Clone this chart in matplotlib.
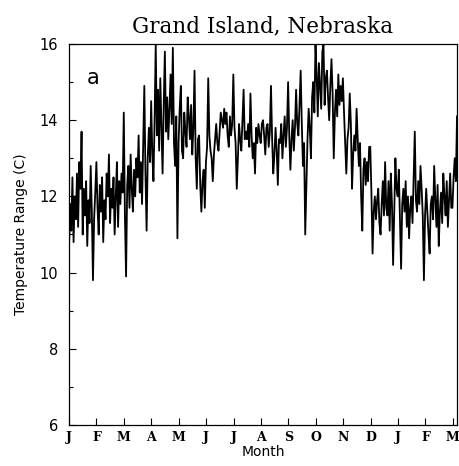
import numpy as np
import matplotlib
matplotlib.use('Agg')
import matplotlib.pyplot as plt

# daily temperature range, ~24 readings per month
jan = [10.6, 11.8, 11.1, 12.5, 10.8, 12.0, 11.4, 12.6, 11.2, 12.9, 12.2, 13.7,
       11.0, 12.2, 11.5, 12.4, 10.7, 11.9, 11.3, 12.8, 11.6, 9.8, 11.4, 12.1]
feb = [12.9, 11.7, 11.0, 12.3, 11.6, 12.5, 10.8, 11.9, 11.4, 12.6, 12.0, 13.1,
       11.3, 12.2, 11.7, 12.5, 11.0, 12.0, 12.9, 11.2, 12.4, 11.8, 12.6, 12.1]
mar = [14.2, 11.5, 9.9, 12.3, 12.8, 11.7, 13.1, 12.2, 11.6, 12.7, 12.0, 13.0,
       12.5, 13.6, 12.1, 12.9, 11.8, 13.4, 14.9, 12.6, 11.1, 13.0, 13.8, 12.9]
apr = [14.5, 13.1, 12.4, 14.0, 16.0, 13.6, 14.8, 13.2, 15.1, 13.9, 12.6, 14.4,
       15.8, 13.7, 14.6, 13.5, 14.3, 15.2, 13.9, 15.9, 13.4, 12.8, 14.1, 10.9]
may = [13.4, 14.3, 14.9, 13.2, 13.0, 14.2, 13.7, 13.3, 14.6, 14.1, 13.5, 14.4,
       13.1, 13.8, 15.3, 13.0, 12.2, 13.5, 13.6, 12.3, 11.6, 12.4, 12.7, 11.7]
jun = [12.9, 13.3, 15.1, 13.6, 13.2, 13.0, 12.4, 13.1, 13.5, 13.9, 13.4, 13.2,
       13.7, 14.2, 14.0, 13.8, 14.3, 13.9, 14.2, 13.6, 13.3, 14.1, 13.6, 13.9]
jul = [15.2, 13.8, 13.4, 12.2, 13.0, 13.9, 13.5, 13.2, 14.0, 14.8, 13.5, 13.7,
       13.5, 13.9, 13.3, 14.7, 13.6, 13.0, 13.4, 12.6, 13.8, 13.4, 13.9, 13.6]
aug = [13.4, 13.9, 14.0, 13.6, 13.1, 13.8, 13.9, 13.3, 13.7, 14.9, 13.5, 12.6,
       13.1, 13.8, 13.2, 12.3, 13.5, 13.4, 13.9, 13.0, 13.6, 14.1, 13.3, 13.8]
sep = [15.0, 13.6, 12.7, 13.5, 14.0, 13.2, 13.8, 14.8, 13.9, 13.6, 14.4, 15.3,
       13.9, 12.8, 13.4, 11.0, 12.2, 13.5, 14.3, 13.8, 13.0, 14.6, 15.0, 14.2]
oct_ = [16.0, 15.2, 14.1, 15.5, 14.9, 14.3, 15.8, 16.0, 14.4, 15.1, 15.3, 14.6,
        14.0, 14.9, 15.6, 14.7, 13.0, 14.2, 14.8, 14.1, 15.2, 14.4, 14.9, 14.5]
nov = [15.1, 14.2, 13.4, 12.6, 13.5, 13.8, 14.7, 13.9, 12.2, 13.1, 13.6, 13.2,
       14.3, 13.5, 12.8, 13.4, 12.0, 11.1, 12.7, 13.0, 12.3, 12.9, 12.4, 13.3]
dec = [13.3, 12.1, 10.5, 11.6, 12.0, 11.4, 11.9, 12.2, 11.3, 11.0, 11.8, 12.4,
       11.5, 12.9, 11.7, 11.5, 12.4, 11.1, 12.6, 11.8, 10.2, 11.6, 13.0, 12.2]
jan2 = [12.0, 12.7, 11.4, 10.1, 11.8, 12.2, 11.6, 12.4, 11.2, 12.0, 10.9, 11.7,
        12.0, 11.3, 12.5, 13.7, 11.9, 11.6, 12.4, 11.8, 12.8, 12.2, 11.5, 9.8]
feb2 = [11.5, 12.2, 11.6, 11.0, 10.5, 11.8, 12.0, 11.4, 12.8, 11.9, 11.2, 12.3,
        10.7, 11.6, 12.1, 11.3, 12.6, 12.0, 11.5, 12.4, 11.2, 11.9, 12.6, 11.7]
mar2 = [11.7, 12.5, 13.0, 12.4, 14.1]

month_labels = ['J', 'F', 'M', 'A', 'M', 'J', 'J', 'A', 'S', 'O', 'N', 'D', 'J', 'F', 'M']
x_end = 14.15

values = (jan + feb + mar + apr + may + jun + jul + aug + sep + oct_ + nov
          + dec + jan2 + feb2 + mar2)
x = np.linspace(0, x_end, len(values))

fig = plt.figure(figsize=(4.6, 4.66), dpi=100)
ax = fig.add_axes([0.15, 0.088, 0.8435, 0.8176])

ax.plot(x, values, color='black', linewidth=1.3)

ax.set_xlim(0, x_end)
ax.set_ylim(6, 16)
ax.set_yticks([6, 8, 10, 12, 14, 16])
ax.set_yticks([7, 9, 11, 13, 15], minor=True)
ax.set_xticks(range(len(month_labels)))
ax.set_xticklabels(month_labels, fontfamily='DejaVu Serif', fontweight='bold', fontsize=9)
ax.tick_params(axis='both', direction='in', length=5, width=0.8)
ax.tick_params(axis='y', which='minor', direction='in', length=3, width=0.8)
ax.tick_params(axis='y', labelsize=10.5, pad=8)
ax.tick_params(axis='x', pad=4)

ax.set_xlabel('Month', fontsize=10, labelpad=1)
ax.set_ylabel('Temperature Range (C)', fontsize=10, labelpad=8)
ax.set_title('Grand Island, Nebraska', fontfamily='DejaVu Serif', fontsize=15.5, pad=8)
ax.text(0.045, 0.91, 'a', transform=ax.transAxes, fontsize=15, ha='left', va='center')

for s in ax.spines.values():
    s.set_linewidth(0.9)

fig.savefig('out.png', dpi=100)
